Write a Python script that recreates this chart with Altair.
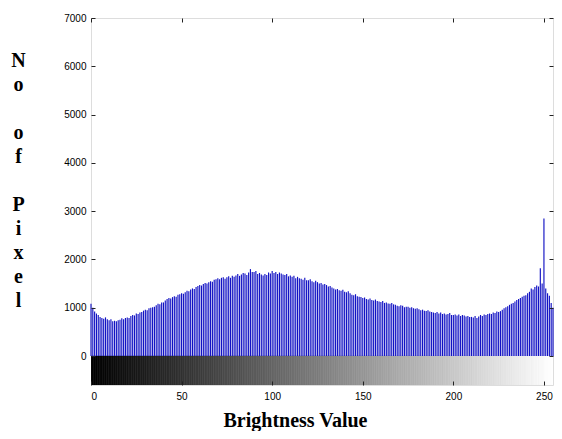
import altair as alt
import pandas as pd

levels = list(range(256))
counts = [
    1080, 1000, 920, 880, 850, 810, 790, 770, 800, 760,
    740, 760, 720, 730, 720, 740, 750, 780, 760, 790,
    800, 790, 830, 850, 840, 880, 870, 900, 910, 940,
    960, 950, 990, 1000, 1010, 1020, 1050, 1080, 1070, 1110,
    1110, 1150, 1180, 1200, 1190, 1220, 1240, 1230, 1270, 1280,
    1300, 1290, 1320, 1350, 1340, 1380, 1400, 1390, 1430, 1450,
    1470, 1460, 1490, 1510, 1500, 1530, 1550, 1540, 1580, 1590,
    1610, 1590, 1620, 1630, 1600, 1630, 1650, 1620, 1660, 1640,
    1670, 1700, 1660, 1690, 1720, 1710, 1680, 1730, 1800, 1740,
    1740, 1760, 1700, 1720, 1690, 1670, 1700, 1680, 1730, 1710,
    1760, 1720, 1740, 1700, 1730, 1710, 1690, 1680, 1700, 1650,
    1670, 1640, 1660, 1610, 1640, 1610, 1600, 1580, 1620, 1570,
    1570, 1590, 1550, 1530, 1560, 1530, 1500, 1510, 1480, 1490,
    1470, 1440, 1450, 1420, 1400, 1380, 1390, 1360, 1350, 1370,
    1330, 1320, 1340, 1300, 1270, 1260, 1280, 1240, 1230, 1220,
    1200, 1210, 1180, 1170, 1190, 1160, 1150, 1170, 1140, 1130,
    1120, 1140, 1100, 1110, 1090, 1080, 1100, 1070, 1060, 1040,
    1030, 1050, 1040, 1010, 1020, 1020, 1000, 1010, 990, 980,
    990, 970, 950, 960, 940, 930, 950, 920, 910, 900,
    890, 910, 880, 900, 870, 880, 860, 870, 890, 850,
    850, 860, 840, 860, 830, 850, 840, 820, 830, 810,
    810, 800, 830, 790, 820, 850, 830, 860, 850, 870,
    880, 870, 900, 890, 920, 910, 930, 960, 990, 1010,
    1030, 1060, 1080, 1100, 1130, 1160, 1180, 1200, 1230, 1250,
    1260, 1300, 1330, 1400, 1380, 1430, 1460, 1440, 1820, 1500,
    2850, 1400, 1300, 1250, 1100, 1000,
]
x_ticks = [0, 50, 100, 150, 200, 250]
y_ticks = [0, 1000, 2000, 3000, 4000, 5000, 6000, 7000]
y_title = ["N", "o", "\u200b", "o", "f", "\u200b", "P", "i", "x", "e", "l"]
x_title = "Brightness Value"

df = pd.DataFrame({"level": levels, "count": counts})

xscale = alt.Scale(domain=[0, 255], nice=False, zero=False)
yscale = alt.Scale(domain=[-600, 7000], nice=False, zero=False)
gray = alt.Scale(domain=[0, 255], range=["#000000", "#ffffff"], interpolate="rgb")

tick_common = dict(tickSize=4, offset=-4, domain=False, grid=False, zindex=2,
                   tickColor="#222222", tickWidth=1)

ramp = alt.Chart(df).transform_calculate(
    lo="datum.level - 0.5", hi="datum.level + 0.5", y0="0", y1="-600"
).mark_rect(clip=True, strokeWidth=0.6).encode(
    x=alt.X("lo:Q", scale=xscale,
            axis=alt.Axis(orient="bottom", values=x_ticks, format="d",
                          labelPadding=6, title=x_title,
                          titleFont="Liberation Serif", titleFontSize=20,
                          titleFontWeight="bold", titleColor="#000000",
                          titleX=204, titleY=45, titleBaseline="alphabetic",
                          titleAnchor="start", titleAlign="center",
                          **tick_common)),
    x2="hi:Q",
    y=alt.Y("y0:Q", scale=yscale,
            axis=alt.Axis(orient="left", values=y_ticks, format="d",
                          labelPadding=5, title=y_title,
                          titleFont="Liberation Serif", titleFontSize=20,
                          titleFontWeight="bold", titleColor="#000000",
                          titleAngle=0, titleX=-77, titleY=48,
                          titleAlign="center", titleBaseline="alphabetic",
                          titleLineHeight=24,
                          **tick_common)),
    y2="y1:Q",
    color=alt.Color("level:Q", scale=gray, legend=None),
    stroke=alt.Stroke("level:Q", scale=gray, legend=None),
)

hist = alt.Chart(df).mark_rule(color="#1212c4", strokeWidth=1.15).encode(
    x=alt.X("level:Q", scale=xscale,
            axis=alt.Axis(orient="top", values=x_ticks, labels=False, title=None,
                          **tick_common)),
    y=alt.Y("count:Q", scale=yscale,
            axis=alt.Axis(orient="right", values=y_ticks, labels=False, title=None,
                          **tick_common)),
    y2=alt.datum(0),
)

chart = alt.layer(ramp, hist).resolve_axis(
    x="independent", y="independent"
).properties(
    width=462, height=367,
    autosize=alt.AutoSizeParams(type="none"),
    padding={"left": 83, "top": 10, "right": 1, "bottom": 46},
).configure_view(
    stroke="#444444", strokeWidth=1
).configure_axis(
    labelFont="Liberation Sans", labelFontSize=13, labelColor="#333333"
).configure(background="white")

chart.save("out.html", embed_options={"renderer": "svg", "actions": False})
